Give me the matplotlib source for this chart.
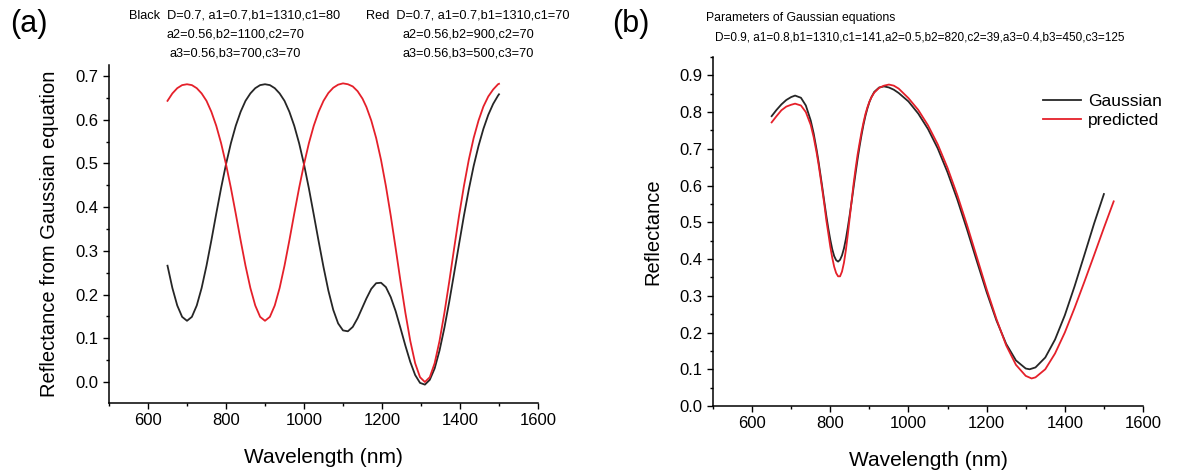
import matplotlib
matplotlib.use("Agg")
import matplotlib.pyplot as plt
from matplotlib.ticker import MultipleLocator

plt.rcParams["font.family"] = ["Liberation Sans", "DejaVu Sans"]

# ---- panel (a): two Gaussian-equation curves ----
a_black_wl = [650, 662.5, 675, 687.5, 700, 712.5, 725, 737.5, 750, 762.5, 775, 787.5,
              800, 812.5, 825, 837.5, 850, 862.5, 875, 887.5, 900, 912.5, 925, 937.5,
              950, 962.5, 975, 987.5, 1000, 1012.5, 1025, 1037.5, 1050, 1062.5, 1075,
              1087.5, 1100, 1112.5, 1125, 1137.5, 1150, 1160, 1172.5, 1185, 1197.5,
              1210, 1222.5, 1235, 1247.5, 1260, 1272.5, 1285, 1297.5, 1310, 1322.5,
              1335, 1347.5, 1360, 1372.5, 1385, 1397.5, 1410, 1422.5, 1435, 1447.5,
              1460, 1472.5, 1485, 1497.5, 1500]
a_black_r = [0.266, 0.215, 0.175, 0.149, 0.140, 0.149, 0.175, 0.215, 0.266, 0.324,
             0.385, 0.444, 0.498, 0.546, 0.586, 0.618, 0.643, 0.660, 0.672, 0.679,
             0.681, 0.679, 0.672, 0.660, 0.643, 0.618, 0.586, 0.546, 0.498, 0.443,
             0.383, 0.322, 0.263, 0.209, 0.165, 0.134, 0.118, 0.116, 0.126, 0.146,
             0.171, 0.191, 0.213, 0.226, 0.227, 0.217, 0.194, 0.162, 0.123, 0.083,
             0.046, 0.016, -0.002, -0.006, 0.005, 0.031, 0.072, 0.124, 0.184, 0.249,
             0.315, 0.380, 0.440, 0.494, 0.540, 0.579, 0.611, 0.636, 0.655, 0.658]

a_red_wl = [650, 662.5, 675, 687.5, 700, 712.5, 725, 737.5, 750, 762.5, 775, 787.5,
            800, 812.5, 825, 837.5, 850, 862.5, 875, 887.5, 900, 912.5, 925, 937.5,
            950, 962.5, 975, 987.5, 1000, 1012.5, 1025, 1037.5, 1050, 1062.5, 1075,
            1087.5, 1100, 1112.5, 1125, 1137.5, 1150, 1160, 1172.5, 1185, 1197.5,
            1210, 1222.5, 1235, 1247.5, 1260, 1272.5, 1285, 1297.5, 1310, 1322.5,
            1335, 1347.5, 1360, 1372.5, 1385, 1397.5, 1410, 1422.5, 1435, 1447.5,
            1460, 1472.5, 1485, 1497.5, 1500]
a_red_r = [0.643, 0.660, 0.672, 0.679, 0.681, 0.679, 0.672, 0.660, 0.643, 0.618,
           0.586, 0.546, 0.498, 0.444, 0.385, 0.324, 0.266, 0.215, 0.175, 0.149,
           0.140, 0.149, 0.175, 0.215, 0.266, 0.324, 0.385, 0.444, 0.498, 0.546,
           0.586, 0.618, 0.643, 0.661, 0.673, 0.680, 0.683, 0.681, 0.676, 0.665,
           0.648, 0.629, 0.598, 0.558, 0.508, 0.448, 0.380, 0.306, 0.230, 0.158,
           0.094, 0.043, 0.011, 0.000, 0.011, 0.043, 0.094, 0.158, 0.230, 0.306,
           0.380, 0.448, 0.508, 0.558, 0.598, 0.630, 0.653, 0.669, 0.681, 0.682]

# ---- panel (b): Gaussian fit vs predicted ----
b_gauss_wl = [650, 662.5, 675, 687.5, 700, 710, 725, 737.5, 750, 757.5, 765, 770,
              775, 780, 785, 790, 795, 800, 805, 810, 815, 820, 825, 830, 835, 840,
              845, 850, 855, 860, 865, 870, 875, 880, 885, 890, 895, 900, 905, 912.5,
              925, 937.5, 950, 962.5, 975, 1000, 1025, 1050, 1075, 1100, 1125, 1150,
              1175, 1200, 1225, 1250, 1275, 1300, 1310, 1325, 1350, 1375, 1400, 1425,
              1450, 1475, 1500]
b_gauss_r = [0.789, 0.806, 0.821, 0.833, 0.841, 0.845, 0.839, 0.818, 0.777, 0.742,
             0.698, 0.665, 0.629, 0.592, 0.554, 0.517, 0.483, 0.453, 0.427, 0.408,
             0.397, 0.393, 0.398, 0.410, 0.429, 0.455, 0.487, 0.522, 0.559, 0.598,
             0.636, 0.673, 0.707, 0.738, 0.766, 0.790, 0.810, 0.827, 0.840, 0.855,
             0.867, 0.870, 0.867, 0.861, 0.852, 0.829, 0.796, 0.754, 0.701, 0.636,
             0.562, 0.480, 0.394, 0.310, 0.233, 0.169, 0.124, 0.102, 0.100, 0.105,
             0.132, 0.181, 0.247, 0.326, 0.411, 0.497, 0.577]

b_pred_wl = [650, 662.5, 675, 687.5, 700, 710, 725, 737.5, 750, 757.5, 765, 770,
             775, 780, 785, 790, 795, 800, 805, 810, 815, 820, 825, 830, 835, 840,
             845, 850, 855, 860, 865, 870, 875, 880, 885, 890, 895, 900, 905, 912.5,
             925, 937.5, 950, 962.5, 975, 1000, 1025, 1050, 1075, 1100, 1125, 1150,
             1175, 1200, 1225, 1250, 1275, 1300, 1315, 1325, 1350, 1375, 1400, 1425,
             1450, 1475, 1500, 1525]
b_pred_r = [0.772, 0.789, 0.805, 0.815, 0.820, 0.823, 0.818, 0.800, 0.765, 0.732,
            0.690, 0.658, 0.622, 0.585, 0.547, 0.505, 0.470, 0.434, 0.404, 0.379,
            0.362, 0.353, 0.353, 0.366, 0.390, 0.425, 0.468, 0.515, 0.562, 0.608,
            0.648, 0.685, 0.716, 0.746, 0.772, 0.795, 0.813, 0.828, 0.840, 0.853,
            0.866, 0.872, 0.875, 0.872, 0.864, 0.838, 0.806, 0.764, 0.712, 0.648,
            0.574, 0.492, 0.405, 0.318, 0.237, 0.165, 0.112, 0.082, 0.075, 0.078,
            0.100, 0.143, 0.200, 0.267, 0.338, 0.411, 0.485, 0.557]

BLACK_TXT = "Black  D=0.7, a1=0.7,b1=1310,c1=80\na2=0.56,b2=1100,c2=70\na3=0.56,b3=700,c3=70"
RED_TXT = "Red  D=0.7, a1=0.7,b1=1310,c1=70\na2=0.56,b2=900,c2=70\na3=0.56,b3=500,c3=70"
B_TXT1 = "Parameters of Gaussian equations"
B_TXT2 = "D=0.9, a1=0.8,b1=1310,c1=141,a2=0.5,b2=820,c2=39,a3=0.4,b3=450,c3=125"

BLK = "#262626"
RED = "#e5202a"


def style(ax, ylim, ystep):
    for s in ("top", "right"):
        ax.spines[s].set_visible(False)
    for s in ("left", "bottom"):
        ax.spines[s].set_linewidth(1.1)
    ax.set_xlim(500, 1600)
    ax.set_ylim(*ylim)
    ax.xaxis.set_major_locator(MultipleLocator(200))
    ax.xaxis.set_minor_locator(MultipleLocator(100))
    ax.yaxis.set_major_locator(MultipleLocator(ystep))
    ax.yaxis.set_minor_locator(MultipleLocator(ystep / 2))
    ax.tick_params(which="major", direction="out", length=4, width=1, labelsize=12)
    ax.tick_params(which="minor", direction="out", length=2.5, width=1)
    ax.yaxis.set_major_formatter(plt.FuncFormatter(lambda v, p: f"{v:.1f}"))
    ax.set_xlabel("Wavelength (nm)", fontsize=15, labelpad=14)


fig = plt.figure(figsize=(11.82, 4.70), dpi=100)
ax1 = fig.add_axes([109 / 1182, 67 / 470, 429 / 1182, 338 / 470])
ax2 = fig.add_axes([713 / 1182, 64 / 470, 430 / 1182, 349 / 470])

ax1.plot(a_black_wl, a_black_r, color=BLK, lw=1.3)
ax1.plot(a_red_wl, a_red_r, color=RED, lw=1.3)
style(ax1, (-0.048, 0.725), 0.1)
ax1.set_ylabel("Reflectance from Gaussian equation", fontsize=14.5, labelpad=12)

ax2.plot(b_gauss_wl, b_gauss_r, color=BLK, lw=1.3, label="Gaussian")
ax2.plot(b_pred_wl, b_pred_r, color=RED, lw=1.3, label="predicted")
style(ax2, (0, 0.95), 0.1)
ax2.set_ylabel("Reflectance", fontsize=14.5, labelpad=12)
ax2.legend(loc="upper left", bbox_to_anchor=(314 / 430, 0.94), frameon=False,
           fontsize=12.5, handlelength=2.2, handletextpad=0.4, labelspacing=0.25)

fig.text(10 / 1182, 1 - 24 / 470, "(a)", fontsize=22, va="center")
fig.text(612 / 1182, 1 - 24 / 470, "(b)", fontsize=22, va="center")
fig.text(235 / 1182, 1 - 10 / 470, BLACK_TXT, fontsize=9.2, ha="center", va="top",
         multialignment="center", linespacing=1.75)
fig.text(468 / 1182, 1 - 10 / 470, RED_TXT, fontsize=9.2, ha="center", va="top",
         multialignment="center", linespacing=1.75)
fig.text(706 / 1182, 1 - 18 / 470, B_TXT1, fontsize=8.8, ha="left", va="center")
fig.text(715 / 1182, 1 - 38 / 470, B_TXT2, fontsize=8.5, ha="left", va="center")

fig.savefig("out.png", dpi=100)
